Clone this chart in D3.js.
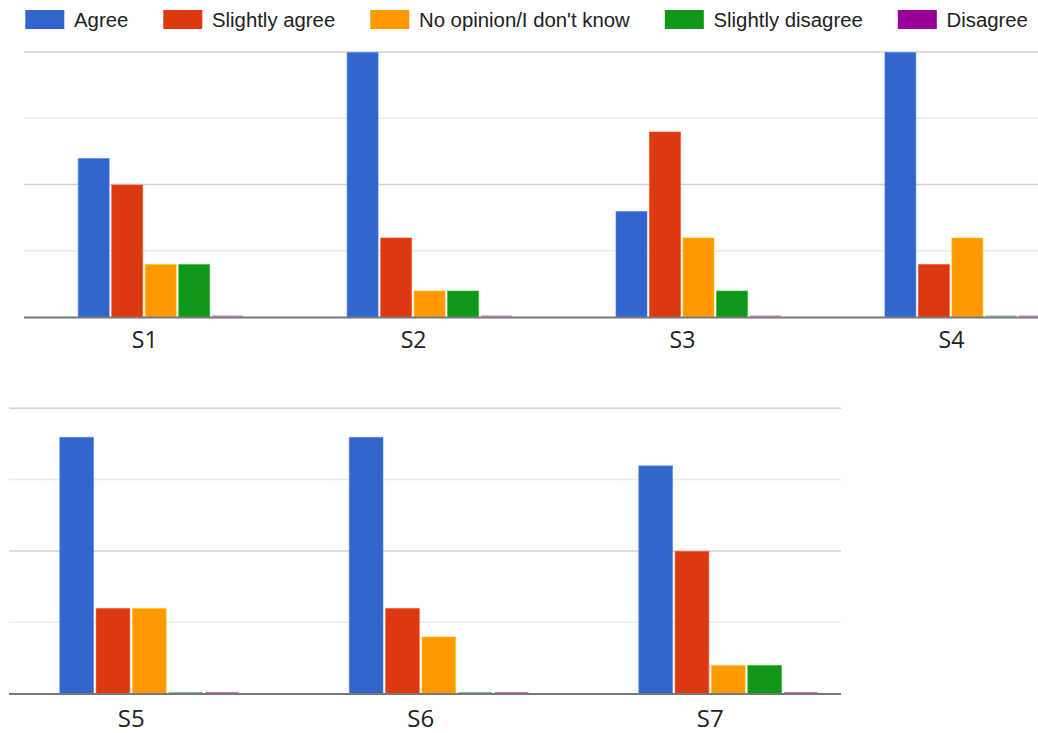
<!DOCTYPE html>
<html>
<head>
<meta charset="utf-8">
<script src="https://cdn.jsdelivr.net/npm/d3@7"></script>
<style>
  html, body { margin: 0; padding: 0; background: #fff; }
  svg { display: block; }
</style>
</head>
<body>
<svg id="chart" width="1038" height="733"></svg>
<script>
// Survey responses per statement (number of respondents)
const seriesNames = ["Agree", "Slightly agree", "No opinion/I don't know", "Slightly disagree", "Disagree"];
const seriesColors = ["#3366cc", "#dc3912", "#ff9900", "#109618", "#990099"];

const statements = ["S1", "S2", "S3", "S4", "S5", "S6", "S7"];
const agree            = [6, 10, 4, 10, 9, 9, 8];
const slightlyAgree    = [5, 3, 7, 2, 3, 3, 5];
const noOpinion        = [2, 1, 3, 3, 3, 2, 1];
const slightlyDisagree = [2, 1, 1, 0, 0, 0, 1];
const disagree         = [0, 0, 0, 0, 0, 0, 0];

const gridTicks = [0, 2.5, 5, 7.5, 10];
const majorTicks = [5, 10];

const topStatements = ["S1", "S2", "S3", "S4"];
const bottomStatements = ["S5", "S6", "S7"];

const seriesValues = [agree, slightlyAgree, noOpinion, slightlyDisagree, disagree];

function rowsFor(names) {
  return names.map(name => {
    const i = statements.indexOf(name);
    return { name, values: seriesNames.map((s, k) => ({ series: s, color: seriesColors[k], value: seriesValues[k][i] })) };
  });
}

const svg = d3.select("#chart");

// ---- legend ----
const legend = svg.append("g").attr("class", "legend");
let lx = 25.3;
seriesNames.forEach((name, k) => {
  legend.append("rect")
    .attr("x", lx).attr("y", 10).attr("width", 39).attr("height", 19)
    .attr("fill", seriesColors[k]);
  const t = legend.append("text")
    .attr("x", lx + 48.7).attr("y", 27)
    .attr("font-family", "'Liberation Sans', Arial, sans-serif")
    .attr("font-size", 20.35)
    .attr("fill", "#222")
    .text(name);
  lx = lx + 48.7 + t.node().getComputedTextLength() + 35;
});

// ---- one grouped-column panel ----
function drawPanel(cfg) {
  const rows = rowsFor(cfg.cats);
  const g = svg.append("g");

  const y = d3.scaleLinear().domain([0, 10]).range([cfg.y0, cfg.y1]);
  const x0 = d3.scaleBand()
    .domain(cfg.cats)
    .range([cfg.start, cfg.start + cfg.cats.length * cfg.step])
    .padding(0);
  const x1 = d3.scaleBand()
    .domain(seriesNames)
    .range([0, cfg.groupWidth])
    .paddingInner(0.045)
    .paddingOuter(0);

  // gridlines
  g.append("g").selectAll("line")
    .data(gridTicks.filter(t => t > 0))
    .join("line")
    .attr("x1", cfg.gridX[0]).attr("x2", cfg.gridX[1])
    .attr("y1", d => y(d)).attr("y2", d => y(d))
    .attr("stroke", d => majorTicks.includes(d) ? "#d2d2d2" : "#ebebeb")
    .attr("stroke-width", 1.5);

  // bars
  const groups = g.append("g").selectAll("g")
    .data(rows)
    .join("g")
    .attr("transform", d => `translate(${x0(d.name)},0)`);

  groups.selectAll("rect")
    .data(d => d.values)
    .join("rect")
    .attr("x", d => x1(d.series) + 0.5)
    .attr("width", x1.bandwidth() - 1)
    .attr("y", d => d.value > 0 ? y(d.value) + 0.5 : y(0) - 1.5)
    .attr("height", d => d.value > 0 ? y(0) - y(d.value) - 0.5 : 1.2)
    .attr("fill", d => d.color)
    .attr("fill-opacity", d => d.value > 0 ? 1 : 0.55)
    .attr("stroke", d => d.value > 0 ? d3.color(d.color).brighter(0.7) : "none")
    .attr("stroke-opacity", 0.6)
    .attr("stroke-width", 1);

  // baseline
  g.append("line")
    .attr("x1", cfg.gridX[0]).attr("x2", cfg.gridX[1])
    .attr("y1", y(0) + 0.5).attr("y2", y(0) + 0.5)
    .attr("stroke", "#777")
    .attr("stroke-width", 1.8);

  // category labels
  g.append("g").selectAll("text")
    .data(cfg.cats)
    .join("text")
    .attr("x", d => x0(d) + cfg.labelOffset)
    .attr("y", cfg.labelY)
    .attr("text-anchor", "middle")
    .attr("font-family", "'Open Sans', 'Noto Sans', sans-serif")
    .attr("font-size", cfg.labelSize)
    .attr("fill", "#222")
    .text(d => d);
}

drawPanel({
  cats: topStatements,
  y0: 317, y1: 52,
  start: 77.7, step: 268.9, groupWidth: 166,
  gridX: [24, 1038],
  labelOffset: 67, labelY: 347.7, labelSize: 23
});

drawPanel({
  cats: bottomStatements,
  y0: 693.5, y1: 408.3,
  start: 59.3, step: 289.5, groupWidth: 180,
  gridX: [9, 841],
  labelOffset: 72, labelY: 726.7, labelSize: 24
});
</script>
</body>
</html>
